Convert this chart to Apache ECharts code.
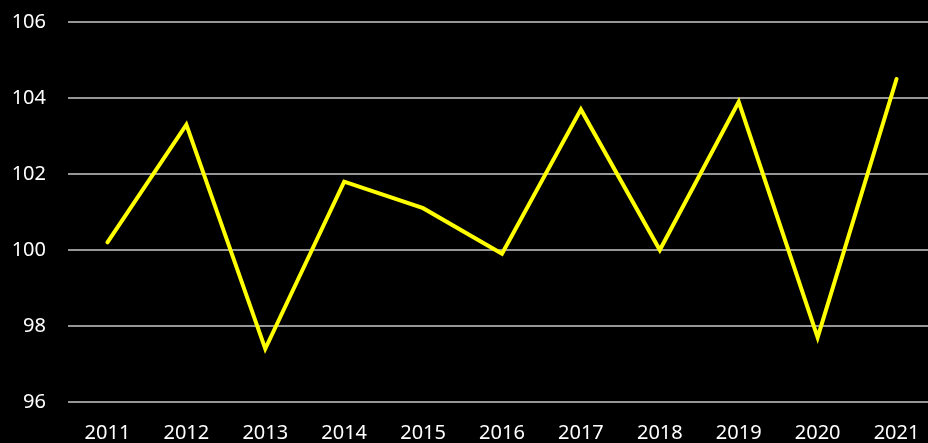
<!DOCTYPE html>
<html><head><meta charset="utf-8">
<script src="https://cdn.jsdelivr.net/npm/echarts@6/dist/echarts.min.js"></script>
<style>html,body{margin:0;padding:0;background:#000;overflow:hidden}#c{width:936px;height:443px}</style>
</head><body><div id="c"></div>
<script>
var categories = ['2011','2012','2013','2014','2015','2016','2017','2018','2019','2020','2021'];
var values = [100.2, 103.3, 97.4, 101.8, 101.1, 99.9, 103.7, 100.0, 103.9, 97.7, 104.5];
var yMin = 96, yMax = 106, yStep = 2;

var chart = echarts.init(document.getElementById('c'));
chart.setOption({
  backgroundColor: '#000',
  animation: false,
  grid: {left: 68, right: 0, top: 22, bottom: 40},
  xAxis: {
    type: 'category', data: categories, boundaryGap: true,
    axisLine: {show: false}, axisTick: {show: false},
    axisLabel: {color: '#fff', fontSize: 20, fontFamily: 'Noto Sans', margin: 21, interval: 0}
  },
  yAxis: {
    type: 'value', min: yMin, max: yMax, interval: yStep,
    axisLine: {show: false}, axisTick: {show: false},
    axisLabel: {color: '#fff', fontSize: 20, fontFamily: 'Noto Sans', margin: 22},
    splitLine: {lineStyle: {color: '#c8c8c8', width: 1.5}}
  },
  series: [{
    type: 'line', data: values, symbol: 'none',
    lineStyle: {color: '#ffff00', width: 4, cap: 'round', join: 'miter'}
  }]
});
</script></body></html>
